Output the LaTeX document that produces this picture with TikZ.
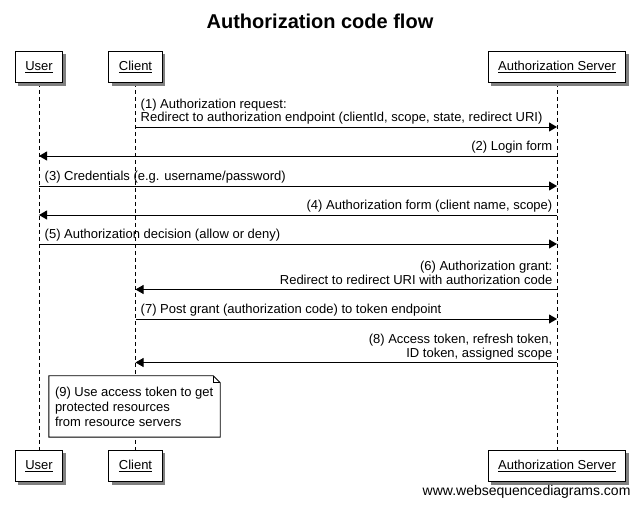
\documentclass[tikz,border=0pt]{standalone}
\usepackage{fontspec}
\setmainfont{Liberation Sans}
\usetikzlibrary{arrows.meta,shadows}

\begin{document}
\begin{tikzpicture}
[x=1pt,y=-1pt,every node/.style={font=\fontsize{13}{13.5}\selectfont},
 actor/.style={rectangle,draw,fill=white,line width=0.9pt,minimum height=31.5pt,inner xsep=10pt,
   drop shadow={shadow xshift=3pt,shadow yshift=-3pt,fill=black!50,opacity=1}},
 life/.style={dash pattern=on 4pt off 3pt,line width=0.9pt},
 msg/.style={-{Triangle[length=8pt,width=9pt]},line width=0.9pt},
 lbl/.style={inner sep=0pt,text depth=0pt}]
  \useasboundingbox (0,0) rectangle (641,505);

  \node[anchor=base] (title) at (320,28.5) {\fontsize{20}{24}\selectfont\bfseries Authorization code flow};

  \foreach \a/\x/\t in {user/39/User,client/135.5/Client,server/557/Authorization Server}{
    \draw[life] (\x,83) -- (\x,450);
    \node[actor] (\a)  at (\x,67)  {\underline{\t}};
    \node[actor] (\a b) at (\x,466) {\underline{\t}};
  }

  \coordinate (m1) at (0,127);
  \coordinate (m2) at (0,156);
  \coordinate (m3) at (0,186);
  \coordinate (m4) at (0,215);
  \coordinate (m5) at (0,244);
  \coordinate (m6) at (0,289.5);
  \coordinate (m7) at (0,319);
  \coordinate (m8) at (0,362.5);

  \foreach \from/\to/\m in {client/server/m1,server/user/m2,user/server/m3,server/user/m4,
                            user/server/m5,server/client/m6,client/server/m7,server/client/m8}
    \draw[msg] (\from |- \m) -- (\to |- \m);

  \node[lbl,anchor=south west,align=left]  (l1) at (140.5,122) {(1) Authorization request:\\Redirect to authorization endpoint (clientId, scope, state, redirect URI)};
  \node[lbl,anchor=south east]             (l2) at (552.5,151) {(2) Login form};
  \node[lbl,anchor=south west]             (l3) at (44.5,181)  {(3) Credentials (e.g. username/password)};
  \node[lbl,anchor=south east]             (l4) at (552.5,210) {(4) Authorization form (client name, scope)};
  \node[lbl,anchor=south west]             (l5) at (44.5,239)  {(5) Authorization decision (allow or deny)};
  \node[lbl,anchor=south east,align=right] (l6) at (552.5,284.5) {(6) Authorization grant:\\Redirect to redirect URI with authorization code};
  \node[lbl,anchor=south west]             (l7) at (140.5,314) {(7) Post grant (authorization code) to token endpoint};
  \node[lbl,anchor=south east,align=right] (l8) at (552.5,357.5) {(8) Access token, refresh token,\\ID token, assigned scope};

  \node[minimum width=171pt,minimum height=61pt] (note) at (134.5,406.5) {};
  \filldraw[fill=white,line width=0.9pt] (note.north west) -- ([xshift=-7pt]note.north east)
    -- ([yshift=-7pt]note.north east) -- (note.south east) -- (note.south west) -- cycle;
  \draw[line width=0.6pt] ([xshift=-7pt]note.north east) |- ([yshift=-7pt]note.north east);
  \node[anchor=west,inner sep=0pt,align=left,font=\fontsize{13}{15}\selectfont] (notetext)
    at ([xshift=6pt]note.west) {(9) Use access token to get\\protected resources\\from resource servers};

  \node[anchor=base east] (wsd) at (634,496) {\fontsize{14}{16}\selectfont www.websequencediagrams.com};
\end{tikzpicture}
\end{document}
